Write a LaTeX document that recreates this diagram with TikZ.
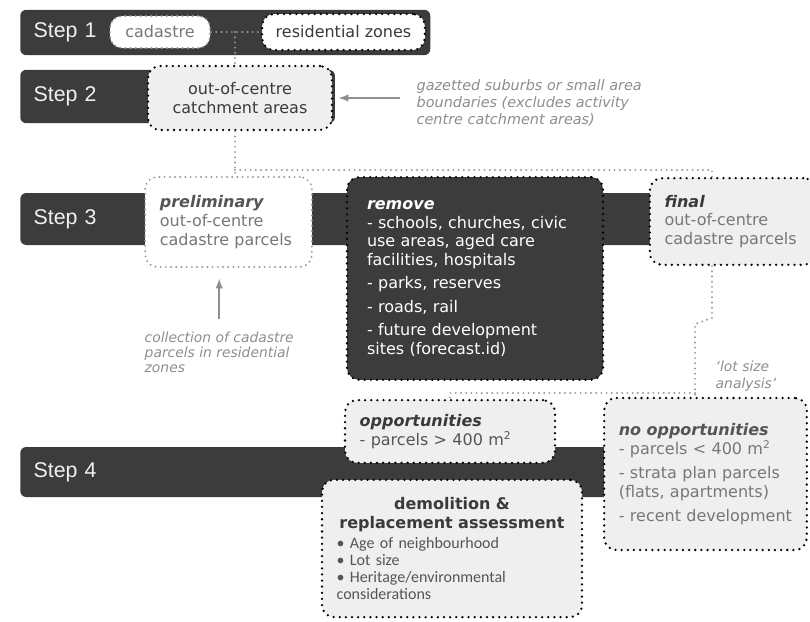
\documentclass[tikz,border=0pt]{standalone}
\usepackage{fontspec}
\setmainfont{DejaVu Sans}
\newfontfamily\stepfont{Liberation Sans}
\newfontfamily\listfont{Carlito}

\definecolor{bardark}{HTML}{3C3C3C}
\definecolor{boxfill}{HTML}{EFEFEF}
\definecolor{txtdark}{HTML}{3A3A3A}
\definecolor{txtmid}{HTML}{555555}
\definecolor{txtgrey}{HTML}{777777}
\definecolor{notegrey}{HTML}{8E8E8E}
\definecolor{dotgrey}{HTML}{9A9A9A}

\tikzset{
  stepbar/.style={fill=bardark, rounded corners=4.5pt, anchor=west, inner xsep=10pt, inner ysep=0pt,
    text=white!94!black, font=\stepfont\fontsize{16}{18}\selectfont, align=left},
  stagebox/.style={fill=boxfill, draw=black, line width=1.9pt, dash pattern=on 0pt off 4.6pt, line cap=round,
    rounded corners=9pt, inner xsep=11pt, align=left, text=txtdark, font=\fontsize{12}{14}\selectfont},
  greybox/.style={stagebox, fill=white, draw=dotgrey, line width=1.6pt, dash pattern=on 0pt off 3.9pt, text=txtgrey},
  link/.style={draw=dotgrey, line width=1.6pt, dash pattern=on 0pt off 3.9pt, line cap=round},
  note/.style={text=notegrey, align=left, font=\itshape\fontsize{10.8}{12.6}\selectfont},
  note arrow/.style={draw=notegrey, line width=1.5pt, -latex},
}

\begin{document}
\begin{tikzpicture}[x=0.75pt, y=-0.75pt]
 \path[use as bounding box, fill=white] (0,0) rectangle (810,621);

 \node[stepbar, text width=287.5pt, minimum height=34pt]   (step1) at (20,32.5) {Step 1};
 \node[stepbar, text width=216pt,   minimum height=40pt]   (step2) at (20,96.5) {Step 2};
 \node[stepbar, text width=460pt,   minimum height=39pt]   (step3) at (20,219)  {Step 3};
 \node[stepbar, text width=422.5pt, minimum height=37.5pt] (step4) at (20,472)  {Step 4};

 \node[greybox, align=center, inner xsep=4pt, minimum width=75pt, minimum height=24pt] (cadastre) at (160,32) {cadastre};
 \node[stagebox, fill=white, align=center, inner xsep=4pt, minimum width=122pt, minimum height=27pt] (reszones) at (343.5,32) {residential zones};
 \node[stagebox, align=center, minimum width=138pt, minimum height=48pt] (catchment) at (240,98) {out-of-centre\\catchment areas};

 \node[greybox, text width=103pt, minimum height=67.5pt] (prelim) at (228.5,222)
   {\textcolor{txtmid}{\textbf{\textit{preliminary}}}\\out-of-centre\\cadastre parcels};
 \node[stagebox, fill=bardark, text=white, inner xsep=15pt, text width=162pt, minimum height=152pt] (remove) at (475,278.5)
   {\textbf{\textit{remove}}\\- schools, churches, civic\\use areas, aged care\\facilities, hospitals\\[3.5pt]
    - parks, reserves\\[3.5pt]- roads, rail\\[3.5pt]- future development\\sites (forecast.id)};
 \node[stagebox, text=txtgrey, text width=102pt, minimum height=65pt] (final) at (732.5,221.5)
   {\textcolor{txtdark}{\textbf{\textit{final}}}\\out-of-centre\\cadastre parcels};

 \node[stagebox, text=txtmid, text width=135.5pt, minimum height=47pt] (opps) at (450,431.5)
   {\textcolor{txtdark}{\textbf{\textit{opportunities}}}\\- parcels > 400 m\textsuperscript{2}};
 \node[stagebox, text width=173pt, minimum height=103pt] (demolition) at (452,548.5)
   {\makebox[173pt]{\textbf{demolition \&}}\\\makebox[173pt]{\textbf{replacement assessment}}\par
    {\listfont\fontsize{12}{12.8}\selectfont\color{txtmid}\vspace{2pt}%
     • Age of neighbourhood\\• Lot size\\• Heritage/environmental\\considerations\par}};
 \node[stagebox, text=txtgrey, text width=130pt, minimum height=114pt] (noopps) at (705.5,474)
   {\textcolor{txtmid}{\textbf{\textit{no opportunities}}}\\- parcels < 400 m\textsuperscript{2}\\[4pt]
    - strata plan parcels\\(flats, apartments)\\[4pt]- recent development};

 \node[note, anchor=west] (gazette) at (412,103)
   {gazetted suburbs or small area\\boundaries (excludes activity\\centre catchment areas)};
 \node[note, anchor=west, font=\itshape\fontsize{10.4}{11.3}\selectfont] (collect) at (140,352)
   {collection of cadastre\\parcels in residential\\zones};
 \node[note, anchor=west, font=\itshape\fontsize{10.4}{12.4}\selectfont] (lotsize) at (711,376)
   {‘lot size\\analysis’};

 \coordinate (j1) at (235,32);
 \coordinate (j2) at (235,170);
 \coordinate (f1) at (712,170);
 \coordinate (f2) at (712,318);
 \coordinate (f3) at (695,324);
 \coordinate (j3) at (695,393);

 \draw[link] (cadastre) -- (reszones);
 \draw[link] (j1) -- (j1 |- catchment.north);
 \draw[link] (j2 |- catchment.south) -- (j2 |- prelim.north);
 \draw[link] (j2) -- (f1) -- (f1 |- final.north);
 \draw[link] (f1 |- final.south) -- (f2) -- (f3) -- (f3 |- noopps.north);
 \draw[link] (j3) -- (j3 -| opps.north) -- (opps.north);

 \draw[note arrow, shorten <=9pt, shorten >=4pt] (gazette.west |- catchment.east) -- (catchment.east);
 \draw[note arrow, shorten <=6pt, shorten >=8pt] (collect.north) -- (collect.north |- prelim.south);
\end{tikzpicture}
\end{document}
